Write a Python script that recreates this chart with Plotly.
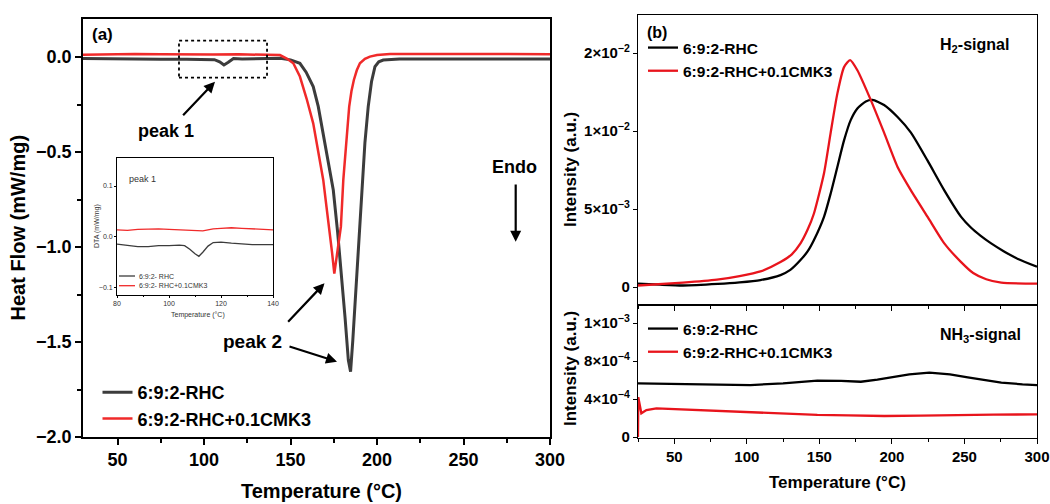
import plotly.graph_objects as go

W, H = 1050, 504
FONT = "Liberation Sans, Arial, sans-serif"

# ---------------- data ----------------
# (a) DSC heat flow
dsc_T_rhc = [30, 45, 60, 75, 90, 100, 106, 109, 111.5, 114, 117, 122, 135, 144, 150, 155.4, 159, 163.1, 166,
             168.9, 171.8, 174.7, 177.2, 179.5, 181.5, 183.4, 184.7, 186, 187.2, 189.2, 191.1, 193, 194.9,
             196.8, 198.8, 201, 203.6, 213, 240, 270, 300]
dsc_hf_rhc = [-0.008, -0.010, -0.011, -0.012, -0.012, -0.013, -0.014, -0.025, -0.042, -0.028, -0.008, -0.010,
              -0.010, -0.007, -0.015, -0.033, -0.08, -0.156, -0.26, -0.40, -0.55, -0.70, -0.92, -1.14, -1.37,
              -1.595, -1.656, -1.49, -1.314, -1.0, -0.70, -0.45, -0.261, -0.13, -0.051, -0.025, -0.016, -0.010,
              -0.010, -0.010, -0.010]
dsc_T_cmk = [30, 45, 60, 75, 90, 105, 120, 135, 140, 143.9, 147.8, 151.6, 155.4, 159.3, 163.1, 166, 168.9,
             170.8, 172.8, 174, 175.3, 177.2, 179.1, 180.5, 182.4, 183.9, 185.2, 186.6, 188.3, 190.1, 193,
             195.9, 200, 207.5, 230, 260, 300]
dsc_hf_cmk = [0.012, 0.014, 0.016, 0.014, 0.012, 0.013, 0.014, 0.013, 0.012, 0.010, -0.008, -0.033, -0.103,
              -0.22, -0.349, -0.49, -0.647, -0.79, -0.928, -1.03, -1.14, -1.02, -0.893, -0.647, -0.437, -0.261,
              -0.18, -0.121, -0.07, -0.033, -0.01, 0.002, 0.010, 0.016, 0.016, 0.015, 0.015]

# inset (peak 1)
inset_T = [80, 84, 88, 92, 96, 100, 104, 106, 108, 110, 111.5, 113, 115, 117, 120, 124, 128, 132, 136, 140]
inset_rhc = [-0.014, -0.016, -0.019, -0.019, -0.017, -0.017, -0.016, -0.017, -0.024, -0.033, -0.038, -0.030,
             -0.018, -0.011, -0.010, -0.012, -0.014, -0.015, -0.015, -0.015]
inset_cmk = [0.014, 0.013, 0.015, 0.016, 0.016, 0.015, 0.014, 0.013, 0.012, 0.012, 0.011, 0.012, 0.014, 0.016,
             0.017, 0.018, 0.017, 0.016, 0.015, 0.014]

# (b) H2 signal
h2_T_rhc = [25, 40, 56, 80, 95, 109.4, 123.2, 130, 137, 142, 146.2, 153.2, 157.8, 162.4, 167, 171.6, 176.2, 182,
            186.6, 194.6, 203.9, 213.1, 224.6, 236.1, 247.7, 254.6, 261, 268.4, 277, 286.9, 300]
h2_rhc = [0.00022, 0.00015, 0.0001, 0.0002, 0.0003, 0.00045, 0.00077, 0.0011, 0.00173, 0.0023, 0.0030, 0.0045,
          0.0060, 0.0077, 0.0094, 0.0107, 0.01145, 0.0119, 0.0120, 0.01167, 0.0109, 0.0099, 0.0081, 0.0062,
          0.0045, 0.0038, 0.0033, 0.0028, 0.0023, 0.0018, 0.0013]
h2_T_cmk = [25, 56, 79.5, 95, 109.4, 123.2, 131, 137, 142, 146.2, 153.2, 157.8, 162.4, 167, 171.2, 176.2, 185.4,
            194.6, 203.9, 213.1, 224.6, 236.1, 247.7, 256, 265, 275.4, 300]
h2_cmk = [0.0001, 0.00028, 0.00047, 0.0007, 0.0010, 0.0016, 0.0021, 0.0028, 0.0037, 0.0047, 0.0073, 0.0099,
          0.0124, 0.0141, 0.01455, 0.0139, 0.0120, 0.0099, 0.0077, 0.0062, 0.0045, 0.0028, 0.0016, 0.0009,
          0.0005, 0.00028, 0.00022]

# (b) NH3 signal
nh3_T_rhc = [25, 56, 80, 102.5, 125, 148.6, 165, 178.6, 190, 199.3, 212, 225.8, 240, 252.3, 265, 275.4, 290, 300]
nh3_rhc = [0.000565, 0.000558, 0.00055, 0.000547, 0.000565, 0.000593, 0.00059, 0.000582, 0.000605, 0.000628,
           0.00066, 0.000677, 0.00066, 0.000628, 0.000595, 0.000572, 0.000555, 0.000547]
nh3_T_cmk = [25, 25.2, 27.3, 30.8, 37.7, 56, 79.3, 102.5, 125, 148.6, 170, 194.8, 220, 240.8, 270, 300]
nh3_cmk = [0, 0.00042, 0.00025, 0.000284, 0.000302, 0.00029, 0.000277, 0.000256, 0.000243, 0.000232, 0.000228,
           0.000221, 0.000226, 0.000232, 0.000235, 0.000239]

name_rhc = "6:9:2-RHC"
name_cmk = "6:9:2-RHC+0.1CMK3"

# tick labels
dsc_x_ticks = [50, 100, 150, 200, 250, 300]
h2_tickvals = [0, 0.005, 0.01, 0.015]
h2_ticktext = ["0", "5×10<sup>−3</sup>", "1×10<sup>−2</sup>", "2×10<sup>−2</sup>"]
nh3_tickvals = [0, 0.0004, 0.0008, 0.0012]
nh3_ticktext = ["0", "4×10<sup>−4</sup>", "8×10<sup>−4</sup>", "1×10<sup>−3</sup>"]
inset_x_ticks = [80, 100, 120, 140]
inset_y_ticks = [-0.1, 0.0, 0.1]

# ---------------- helpers ----------------
def PX(x):
    return x / W


def PY(y):
    return 1 - y / H


GRAY = "#3c3c3c"
RED_A = "#f02a2a"
RED_B = "#e8141c"

fig = go.Figure()

# (a) main
fig.add_trace(go.Scatter(x=dsc_T_rhc, y=dsc_hf_rhc, mode="lines", name=name_rhc,
                         line=dict(color=GRAY, width=3), xaxis="x", yaxis="y", legend="legend",
                         legendgroup="a1"))
fig.add_trace(go.Scatter(x=dsc_T_cmk, y=dsc_hf_cmk, mode="lines", name=name_cmk,
                         line=dict(color=RED_A, width=2.5), xaxis="x", yaxis="y", legend="legend",
                         legendgroup="a2"))
# inset
fig.add_trace(go.Scatter(x=inset_T, y=inset_rhc, mode="lines", showlegend=False,
                         line=dict(color=GRAY, width=1.3), xaxis="x4", yaxis="y4"))
fig.add_trace(go.Scatter(x=inset_T, y=inset_cmk, mode="lines", showlegend=False,
                         line=dict(color=RED_A, width=1.3), xaxis="x4", yaxis="y4"))
# (b) H2
fig.add_trace(go.Scatter(x=h2_T_rhc, y=h2_rhc, mode="lines", name=name_rhc,
                         line=dict(color="black", width=2.3, shape="spline", smoothing=0.6),
                         xaxis="x2", yaxis="y2", legend="legend2", legendgroup="b1"))
fig.add_trace(go.Scatter(x=h2_T_cmk, y=h2_cmk, mode="lines", name=name_cmk,
                         line=dict(color=RED_B, width=2.3, shape="spline", smoothing=0.6),
                         xaxis="x2", yaxis="y2", legend="legend2", legendgroup="b2"))
# (b) NH3
fig.add_trace(go.Scatter(x=nh3_T_rhc, y=nh3_rhc, mode="lines", name=name_rhc,
                         line=dict(color="black", width=2.3), xaxis="x3", yaxis="y3",
                         legend="legend3", legendgroup="c1"))
fig.add_trace(go.Scatter(x=nh3_T_cmk, y=nh3_cmk, mode="lines", name=name_cmk,
                         line=dict(color=RED_B, width=2.3), xaxis="x3", yaxis="y3",
                         legend="legend3", legendgroup="c2"))

axis_common = dict(showline=True, mirror=True, linecolor="black", showgrid=False, zeroline=False,
                   ticks="outside", tickcolor="black", automargin=False)

bold_a = dict(family=FONT, size=18, color="black", weight="bold")
bold_b = dict(family=FONT, size=15, color="black", weight="bold")
small = dict(family=FONT, size=7, color="#333333")

fig.update_layout(
    width=W, height=H, autosize=False,
    margin=dict(l=0, r=0, t=0, b=0, pad=0),
    paper_bgcolor="white", plot_bgcolor="white",
    font=dict(family=FONT, color="black"),
    xaxis=dict(**axis_common, domain=[PX(83), PX(550)], range=[30, 300], anchor="y",
               tickvals=dsc_x_ticks, ticklen=6, tickwidth=1.5, linewidth=1.5,
               minor=dict(dtick=25, tick0=0, ticks="outside", ticklen=4, tickcolor="black"),
               tickfont=bold_a),
    yaxis=dict(**axis_common, domain=[PY(437), PY(19)], range=[-2.0, 0.2], anchor="x",
               dtick=0.5, tick0=0, tickformat=".1f", ticklen=6, tickwidth=1.5, linewidth=1.5,
               minor=dict(dtick=0.25, tick0=0, ticks="outside", ticklen=4, tickcolor="black"),
               tickfont=bold_a),
    xaxis2=dict(**axis_common, domain=[PX(638), PX(1037)], range=[25, 300], anchor="y2",
                tickvals=dsc_x_ticks, showticklabels=False, ticklen=5, tickwidth=1.3, linewidth=1.3,
                minor=dict(dtick=25, tick0=0, ticks="outside", ticklen=3, tickcolor="black")),
    yaxis2=dict(**axis_common, domain=[PY(305), PY(15)], range=[-0.00115, 0.01744], anchor="x2",
                tickvals=h2_tickvals, ticktext=h2_ticktext, ticklen=4, tickwidth=1.3, linewidth=1.3,
                tickfont=bold_b),
    xaxis3=dict(**axis_common, domain=[PX(638), PX(1037)], range=[25, 300], anchor="y3",
                tickvals=dsc_x_ticks, ticklen=5, tickwidth=1.3, linewidth=1.3,
                minor=dict(dtick=25, tick0=0, ticks="outside", ticklen=3, tickcolor="black"),
                tickfont=bold_b),
    yaxis3=dict(**axis_common, domain=[PY(438), PY(305)], range=[-0.0000105, 0.00139], anchor="x3",
                tickvals=nh3_tickvals, ticktext=nh3_ticktext, ticklen=4, tickwidth=1.3, linewidth=1.3,
                tickfont=bold_b),
    xaxis4=dict(**axis_common, domain=[PX(117), PX(273)], range=[80, 140], anchor="y4",
                tickvals=inset_x_ticks, ticklen=2, tickwidth=0.8, linewidth=0.9,
                minor=dict(dtick=10, tick0=0, ticks="outside", ticklen=1.5, tickcolor="black"),
                tickfont=small),
    yaxis4=dict(**axis_common, domain=[PY(295), PY(158)], range=[-0.114, 0.155], anchor="x4",
                tickvals=inset_y_ticks, tickformat=".1f", ticklen=2, tickwidth=0.8, linewidth=0.9,
                tickfont=small),
    legend=dict(x=PX(97.5), y=PY(374), xanchor="left", yanchor="top", bgcolor="rgba(0,0,0,0)",
                font=dict(family=FONT, size=18, color="black", weight="bold"), tracegroupgap=0,
                itemclick=False),
    legend2=dict(x=PX(643), y=PY(31), xanchor="left", yanchor="top", bgcolor="rgba(0,0,0,0)",
                 font=dict(family=FONT, size=15.5, color="black", weight="bold"), tracegroupgap=0),
    legend3=dict(x=PX(643), y=PY(312), xanchor="left", yanchor="top", bgcolor="rgba(0,0,0,0)",
                 font=dict(family=FONT, size=15.5, color="black", weight="bold"), tracegroupgap=0),
)

ann = []


def text(x, y, s, font, **kw):
    d = dict(x=PX(x), y=PY(y), xref="paper", yref="paper", text=s, showarrow=False, font=font,
             xanchor=kw.pop("xanchor", "center"), yanchor=kw.pop("yanchor", "middle"))
    d.update(kw)
    ann.append(d)


def arrow(tx, ty, hx, hy, width=2.2, size=1.0):
    ann.append(dict(x=PX(hx), y=PY(hy), xref="paper", yref="paper", ax=tx - hx, ay=ty - hy,
                    axref="pixel", ayref="pixel", text="", showarrow=True, arrowhead=2,
                    arrowsize=size, arrowwidth=width, arrowcolor="black"))


# axis titles
title_a = dict(family=FONT, size=20, color="black", weight="bold")
title_b = dict(family=FONT, size=17, color="black", weight="bold")
text(18, 227.5, "Heat Flow (mW/mg)", title_a, textangle=-90)
text(321.5, 491, "Temperature (°C)", title_a)
text(570, 170, "Intensity (a.u.)", title_b, textangle=-90)
text(570, 369, "Intensity (a.u.)", title_b, textangle=-90)
text(837.5, 482, "Temperature (°C)", title_b)

# panel labels and notes
text(90, 35, "(a)", dict(family=FONT, size=17, color="black", weight="bold"), xanchor="left")
text(645, 32, "(b)", dict(family=FONT, size=16, color="black", weight="bold"), xanchor="left")
text(974, 45, "H<sub>2</sub>-signal", dict(family=FONT, size=16, color="black", weight="bold"))
text(980, 335, "NH<sub>3</sub>-signal", dict(family=FONT, size=16, color="black", weight="bold"))
text(166, 131, "peak 1", dict(family=FONT, size=18, color="black", weight="bold"))
text(252, 341, "peak 2", dict(family=FONT, size=19, color="black", weight="bold"))
text(514, 167, "Endo", dict(family=FONT, size=18, color="black", weight="bold"))

# inset texts
text(127, 179, "peak 1", dict(family=FONT, size=9, color="#333333"), xanchor="left")
text(97, 226, "DTA (mW/mg)", dict(family=FONT, size=7, color="#333333"), textangle=-90)
text(198, 315, "Temperature (°C)", dict(family=FONT, size=7, color="#333333"))
text(137, 276, "6:9:2- RHC", dict(family=FONT, size=7, color="#333333"), xanchor="left")
text(137, 285.7, "6:9:2- RHC+0.1CMK3", dict(family=FONT, size=7, color="#333333"), xanchor="left")

# arrows
arrow(181.7, 116.7, 215, 81.7)
arrow(515.7, 183, 515.7, 241.7)
arrow(286.7, 323.3, 324.5, 283.3)
arrow(288, 346, 337, 361.7)

fig.update_layout(annotations=ann)

shapes = [
    # dotted box around peak 1 (data coordinates of panel a)
    dict(type="rect", xref="x", yref="y", x0=85.5, x1=136.4, y0=-0.109, y1=0.086,
         line=dict(color="black", width=1.8, dash="dot"), fillcolor="rgba(0,0,0,0)"),
    # inset legend samples
    dict(type="line", xref="paper", yref="paper", x0=PX(119), x1=PX(135), y0=PY(276), y1=PY(276),
         line=dict(color=GRAY, width=1.3)),
    dict(type="line", xref="paper", yref="paper", x0=PX(119), x1=PX(135), y0=PY(285.7), y1=PY(285.7),
         line=dict(color=RED_A, width=1.3)),
]
fig.update_layout(shapes=shapes)

fig.write_html("out.html")
